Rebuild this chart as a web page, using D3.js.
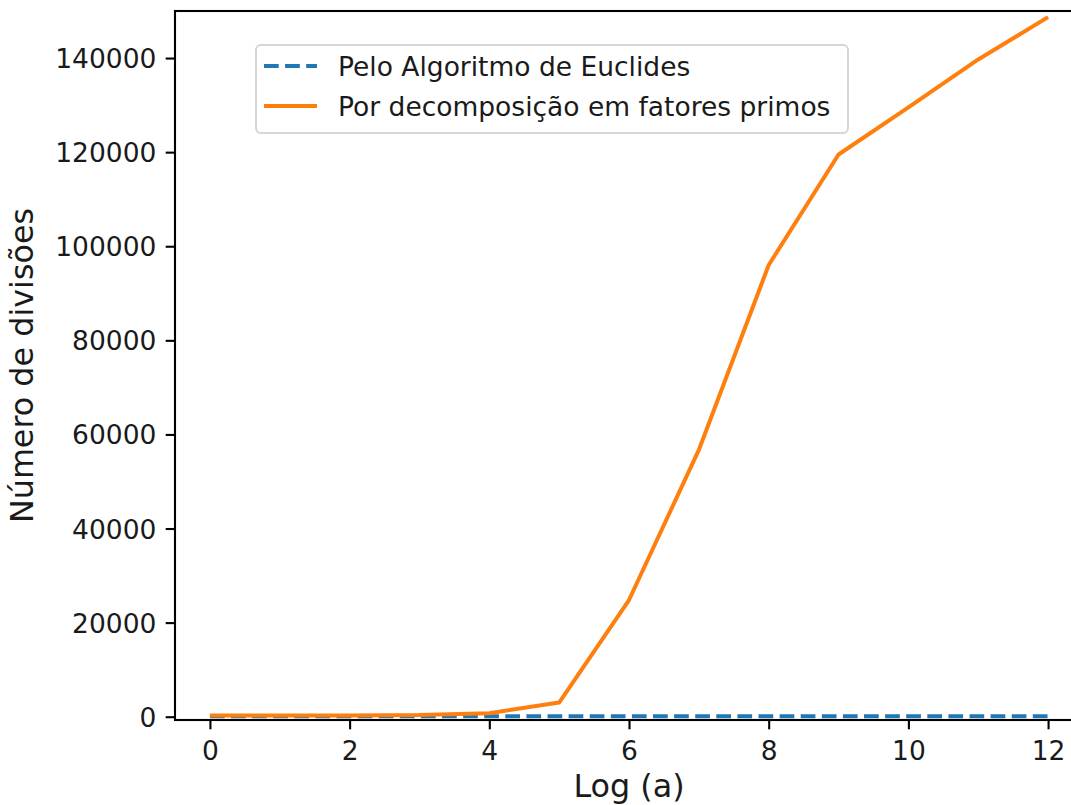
<!DOCTYPE html>
<html>
<head>
<meta charset="utf-8">
<script src="https://cdn.jsdelivr.net/npm/d3@7"></script>
<style>
  body { margin: 0; background: #fff; }
  svg { display: block; font-family: "DejaVu Sans", sans-serif; }
</style>
</head>
<body>
<svg id="chart"></svg>
<script>
// Numero de divisoes: Euclides vs decomposicao em fatores primos

const logA = [0, 1, 2, 3, 4, 5, 6, 7, 8, 9, 10, 11, 12];
const euclides = [100, 100, 100, 100, 100, 100, 100, 100, 100, 100, 100, 100, 100];
const fatores = [250, 250, 280, 350, 750, 3000, 24800, 56700, 96000, 119500, 129500, 139700, 148700];
const xTicks = [0, 2, 4, 6, 8, 10, 12];
const yTicks = [0, 20000, 40000, 60000, 80000, 100000, 120000, 140000];
const seriesNames = ["Pelo Algoritmo de Euclides", "Por decomposição em fatores primos"];

const svgWidth = 1071;
const svgHeight = 805;

const svg = d3.select("#chart")
    .attr("width", svgWidth)
    .attr("height", svgHeight);

const plot = { left: 175, right: 1083, top: 11, bottom: 720 };

const tickFont = 26.5;
const labelFont = 31.8;
const tickLen = 9.3;
const tickPad = 9.3;

const xScale = d3.scaleLinear().domain([-0.5, 12.5]).range([plot.left, plot.right]);
const yScale = d3.scaleLinear().domain([-700, 150000]).range([plot.bottom, plot.top]);

const line = d3.line()
    .x((d, i) => xScale(logA[i]))
    .y(d => yScale(d));

// series (Euclides first, primes on top)
svg.append("path")
    .datum(euclides)
    .attr("fill", "none")
    .attr("stroke", "#1f77b4")
    .attr("stroke-width", 4)
    .attr("stroke-dasharray", "14.7,6.4")
    .attr("d", line);

svg.append("path")
    .datum(fatores)
    .attr("fill", "none")
    .attr("stroke", "#ff7f0e")
    .attr("stroke-width", 4)
    .attr("stroke-linejoin", "round")
    .attr("d", line);

// axes
const xAxis = d3.axisBottom(xScale)
    .tickValues(xTicks)
    .tickSize(tickLen)
    .tickPadding(tickPad)
    .tickFormat(d3.format("d"));

const yAxis = d3.axisLeft(yScale)
    .tickValues(yTicks)
    .tickSize(tickLen)
    .tickPadding(tickPad)
    .tickFormat(d3.format("d"));

const gx = svg.append("g")
    .attr("transform", `translate(0, ${plot.bottom})`)
    .call(xAxis);

const gy = svg.append("g")
    .attr("transform", `translate(${plot.left}, 0)`)
    .call(yAxis);

[gx, gy].forEach(g => {
    g.select(".domain").remove();
    g.selectAll(".tick line").attr("stroke", "#000").attr("stroke-width", 2.1);
    g.selectAll(".tick text")
        .attr("fill", "#1a1a1a")
        .attr("font-size", tickFont)
        .attr("font-family", "DejaVu Sans");
});
gx.selectAll(".tick text").attr("dy", null).attr("y", 760 - plot.bottom);
gy.selectAll(".tick text").attr("dy", "0.36em");

// spines
svg.append("rect")
    .attr("x", plot.left)
    .attr("y", plot.top)
    .attr("width", plot.right - plot.left)
    .attr("height", plot.bottom - plot.top)
    .attr("fill", "none")
    .attr("stroke", "#000")
    .attr("stroke-width", 2.1);

// axis labels
svg.append("text")
    .attr("x", (plot.left + plot.right) / 2)
    .attr("y", 797)
    .attr("text-anchor", "middle")
    .attr("font-size", labelFont)
    .attr("fill", "#1a1a1a")
    .text("Log (a)");

svg.append("text")
    .attr("transform", `translate(33, ${(plot.top + plot.bottom) / 2}) rotate(-90)`)
    .attr("text-anchor", "middle")
    .attr("font-size", labelFont)
    .attr("fill", "#1a1a1a")
    .text("Número de divisões");

// legend
const legend = svg.append("g");
const legendBox = { x: 256, y: 45, w: 592, h: 88 };

legend.append("rect")
    .attr("x", legendBox.x)
    .attr("y", legendBox.y)
    .attr("width", legendBox.w)
    .attr("height", legendBox.h)
    .attr("rx", 5)
    .attr("fill", "#fff")
    .attr("fill-opacity", 0.8)
    .attr("stroke", "#d6d6d6")
    .attr("stroke-width", 2);

const legendItems = [
    { name: seriesNames[0], color: "#1f77b4", dash: "14.7,6.4", y: 66 },
    { name: seriesNames[1], color: "#ff7f0e", dash: null, y: 106 }
];

legendItems.forEach(item => {
    legend.append("line")
        .attr("x1", 264)
        .attr("x2", 317)
        .attr("y1", item.y)
        .attr("y2", item.y)
        .attr("stroke", item.color)
        .attr("stroke-width", 4)
        .attr("stroke-dasharray", item.dash);
    legend.append("text")
        .attr("x", 338)
        .attr("y", item.y)
        .attr("dy", "0.36em")
        .attr("font-size", tickFont)
        .attr("fill", "#1a1a1a")
        .text(item.name);
});
</script>
</body>
</html>
